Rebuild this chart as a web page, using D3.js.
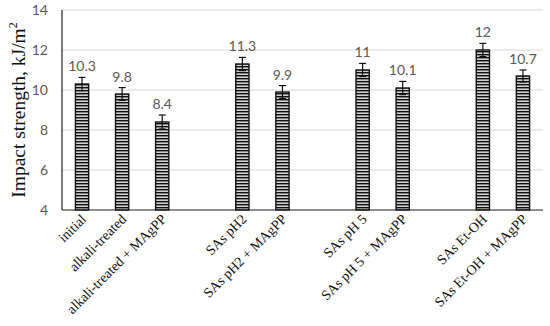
<!DOCTYPE html>
<html>
<head>
<meta charset="utf-8">
<script src="https://cdn.jsdelivr.net/npm/d3@7"></script>
<style>
  body { margin: 0; background: #fff; }
</style>
</head>
<body>
<svg id="chart" width="550" height="326"></svg>
<script>
// slots include empty gaps between groups
const categories = ["initial", "alkali-treated", "alkali-treated + MAgPP", "gap1",
  "SAs pH2", "SAs pH2 + MAgPP", "gap2",
  "SAs pH 5", "SAs pH 5 + MAgPP", "gap3",
  "SAs Et-OH", "SAs Et-OH + MAgPP"];
const values = [10.3, 9.8, 8.4, null, 11.3, 9.9, null, 11, 10.1, null, 12, 10.7];
const errors = [0.33, 0.32, 0.35, null, 0.33, 0.32, null, 0.33, 0.33, null, 0.33, 0.3];
const yTicks = [4, 6, 8, 10, 12, 14];

const svg = d3.select("#chart");
const margin = {left: 62, right: 7, top: 10, bottom: 116};
const W = 550, H = 326;

const x = d3.scaleBand()
  .domain(categories)
  .range([margin.left, W - margin.right])
  .paddingInner(0.67).paddingOuter(0.335);

const y = d3.scaleLinear()
  .domain([4, 14])
  .range([H - margin.bottom, margin.top]);

// hatch pattern for bars
const defs = svg.append("defs");
const pat = defs.append("pattern")
  .attr("id", "hatch")
  .attr("patternUnits", "userSpaceOnUse")
  .attr("width", 6).attr("height", 3);
pat.append("rect").attr("width", 6).attr("height", 3).attr("fill", "#d0d0d0");
pat.append("rect").attr("y", 0).attr("width", 6).attr("height", 1.4).attr("fill", "#111");

// gridlines
svg.append("g")
  .selectAll("line")
  .data(yTicks.slice(1))
  .join("line")
  .attr("x1", margin.left).attr("x2", W - margin.right)
  .attr("y1", d => y(d)).attr("y2", d => y(d))
  .attr("stroke", "#d9d9d9").attr("stroke-width", 1);

// y tick labels
svg.append("g")
  .selectAll("text")
  .data(yTicks)
  .join("text")
  .attr("x", 48)
  .attr("y", d => y(d))
  .attr("dy", "0.35em")
  .attr("text-anchor", "end")
  .attr("font-family", "Lato, 'Open Sans', sans-serif")
  .attr("font-size", 14)
  .attr("fill", "#595959")
  .text(d => d);

const data = categories.map((c, i) => ({c, v: values[i], e: errors[i]})).filter(d => d.v != null);

// bars
svg.append("g")
  .selectAll("rect")
  .data(data)
  .join("rect")
  .attr("x", d => x(d.c))
  .attr("width", x.bandwidth())
  .attr("y", d => y(d.v))
  .attr("height", d => y(4) - y(d.v))
  .attr("fill", "url(#hatch)")
  .attr("stroke", "#111")
  .attr("stroke-width", 1.4);

// error bars
const eb = svg.append("g").attr("stroke", "#111").attr("stroke-width", 1.2);
data.forEach(d => {
  const cx = x(d.c) + x.bandwidth() / 2;
  eb.append("line").attr("x1", cx).attr("x2", cx).attr("y1", y(d.v + d.e)).attr("y2", y(d.v - d.e));
  eb.append("line").attr("x1", cx - 3.5).attr("x2", cx + 3.5).attr("y1", y(d.v + d.e)).attr("y2", y(d.v + d.e));
  eb.append("line").attr("x1", cx - 3.5).attr("x2", cx + 3.5).attr("y1", y(d.v - d.e)).attr("y2", y(d.v - d.e));
});

// value labels
svg.append("g")
  .selectAll("text")
  .data(data)
  .join("text")
  .attr("x", d => x(d.c) + x.bandwidth() / 2)
  .attr("y", d => y(d.v + d.e) - 6)
  .attr("text-anchor", "middle")
  .attr("font-family", "Lato, 'Open Sans', sans-serif")
  .attr("font-size", 14)
  .attr("fill", "#595959")
  .text(d => d.v);

// axes lines
svg.append("line")
  .attr("x1", margin.left).attr("x2", margin.left)
  .attr("y1", y(14)).attr("y2", y(4))
  .attr("stroke", "#222").attr("stroke-width", 1.2);
svg.append("line")
  .attr("x1", margin.left).attr("x2", W - margin.right)
  .attr("y1", y(4)).attr("y2", y(4))
  .attr("stroke", "#222").attr("stroke-width", 1.2);

// category labels
svg.append("g")
  .selectAll("text")
  .data(data)
  .join("text")
  .attr("transform", d => `translate(${x(d.c) + x.bandwidth() / 2 + 5},${y(4) + 10}) rotate(-45)`)
  .attr("text-anchor", "end")
  .attr("font-family", "'Liberation Serif', 'DejaVu Serif', serif")
  .attr("font-size", 14)
  .attr("fill", "#111")
  .text(d => d.c);

// y axis title
const title = svg.append("text")
  .attr("transform", `translate(25,110) rotate(-90)`)
  .attr("text-anchor", "middle")
  .attr("font-family", "'Liberation Serif', 'DejaVu Serif', serif")
  .attr("font-size", 19.5)
  .attr("fill", "#111");
title.append("tspan").text("Impact strength, kJ/m");
title.append("tspan").attr("dy", -8).attr("font-size", 12).text("2");
</script>
</body>
</html>
